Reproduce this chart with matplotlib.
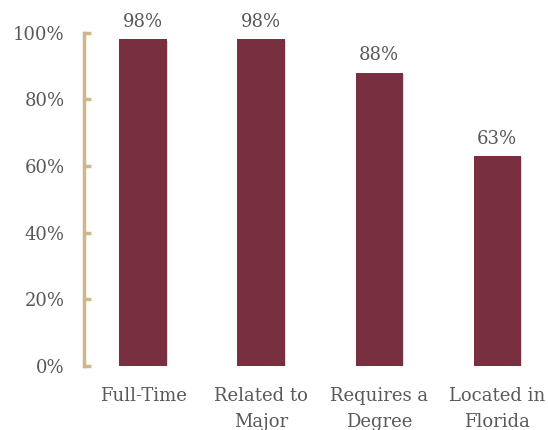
import matplotlib
matplotlib.use("Agg")
import matplotlib.pyplot as plt
import matplotlib.patheffects as pe

categories = ["Full-Time", "Related to\nMajor", "Requires a\nDegree", "Located in\nFlorida"]
values = [98, 98, 88, 63]
yticks = [0, 20, 40, 60, 80, 100]
ytick_labels = ["0%", "20%", "40%", "60%", "80%", "100%"]

BAR = "#782F40"
GOLD = "#CEB888"
TXT = "#595959"

plt.rcParams['font.family'] = ['DejaVu Serif']

fig = plt.figure(figsize=(5.48, 4.30), dpi=100)
ax = fig.add_axes([84/548, (430-366)/430, (548-84)/548, (366-32.5)/430])

x = list(range(len(categories)))
bars = ax.bar(x, values, width=0.40, color=BAR, zorder=3,
              path_effects=[pe.SimplePatchShadow(offset=(1, -1), shadow_rgbFace='#999999', alpha=0.35), pe.Normal()])

for xi, v in zip(x, values):
    ax.annotate(f"{v}%", (xi, v), xytext=(0, 6), textcoords="offset points",
                ha="center", va="bottom", fontsize=13, color=TXT)

ax.set_ylim(0, 100)
ax.set_xlim(-0.5, 3.43)
ax.set_yticks(yticks)
ax.set_yticklabels(ytick_labels, fontsize=13, color=TXT)
ax.set_xticks(x)
ax.set_xticklabels(categories, fontsize=13, color=TXT, linespacing=1.6)

for s in ["top", "right", "bottom"]:
    ax.spines[s].set_visible(False)
ax.spines["left"].set_color(GOLD)
ax.spines["left"].set_linewidth(2.5)
ax.spines["left"].set_bounds(0, 100)
ax.spines["left"].set_capstyle("projecting")

ax.tick_params(axis="y", direction="in", length=5, width=2.5, color=GOLD, pad=14)
ax.tick_params(axis="x", length=0, pad=15)
ax.set_facecolor("none")

fig.savefig("out.png", dpi=100)
